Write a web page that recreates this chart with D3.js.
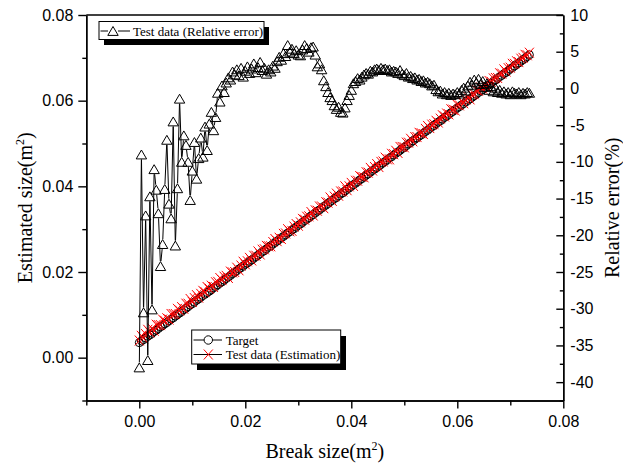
<!DOCTYPE html>
<html>
<head>
<meta charset="utf-8">
<title>Break size estimation</title>
<script src="https://d3js.org/d3.v7.min.js"></script>
<style>
  body { margin: 0; background: #fff; }
  svg { display: block; }
  .axis text { font-family: "Liberation Sans", Arial, sans-serif; font-size: 16px; fill: #000; }
  .axis path, .axis line { stroke: #000; stroke-width: 1.4px; }
  .title { font-family: "Liberation Serif", "Times New Roman", serif; font-size: 20px; fill: #000; }
  .legend text { font-family: "Liberation Serif", "Times New Roman", serif; font-size: 13px; fill: #000; }
</style>
</head>
<body>
<script>
// break size (m2)
var breakSize = [
  0.0000,0.0004,0.0008,0.0012,0.0016,0.0020,0.0024,0.0028,0.0032,0.0036,
  0.0040,0.0044,0.0048,0.0052,0.0056,0.0060,0.0064,0.0068,0.0072,0.0076,
  0.0080,0.0084,0.0088,0.0092,0.0096,0.0100,0.0104,0.0108,0.0112,0.0116,
  0.0120,0.0124,0.0128,0.0132,0.0136,0.0140,0.0144,0.0148,0.0152,0.0156,
  0.0160,0.0164,0.0168,0.0172,0.0176,0.0180,0.0184,0.0188,0.0192,0.0196,
  0.0200,0.0204,0.0208,0.0212,0.0216,0.0220,0.0224,0.0228,0.0232,0.0236,
  0.0240,0.0244,0.0248,0.0252,0.0256,0.0260,0.0264,0.0268,0.0272,0.0276,
  0.0280,0.0284,0.0288,0.0292,0.0296,0.0300,0.0304,0.0308,0.0312,0.0316,
  0.0320,0.0324,0.0328,0.0332,0.0336,0.0340,0.0344,0.0348,0.0352,0.0356,
  0.0360,0.0364,0.0368,0.0372,0.0376,0.0380,0.0384,0.0388,0.0392,0.0396,
  0.0400,0.0404,0.0408,0.0412,0.0416,0.0420,0.0424,0.0428,0.0432,0.0436,
  0.0440,0.0444,0.0448,0.0452,0.0456,0.0460,0.0464,0.0468,0.0472,0.0476,
  0.0480,0.0484,0.0488,0.0492,0.0496,0.0500,0.0504,0.0508,0.0512,0.0516,
  0.0520,0.0524,0.0528,0.0532,0.0536,0.0540,0.0544,0.0548,0.0552,0.0556,
  0.0560,0.0564,0.0568,0.0572,0.0576,0.0580,0.0584,0.0588,0.0592,0.0596,
  0.0600,0.0604,0.0608,0.0612,0.0616,0.0620,0.0624,0.0628,0.0632,0.0636,
  0.0640,0.0644,0.0648,0.0652,0.0656,0.0660,0.0664,0.0668,0.0672,0.0676,
  0.0680,0.0684,0.0688,0.0692,0.0696,0.0700,0.0704,0.0708,0.0712,0.0716,
  0.0720,0.0724,0.0728,0.0732,0.0736
];

// target size (m2)
var target = [
  0.0035,0.0039,0.0042,0.0046,0.0050,0.0053,0.0057,0.0061,0.0064,0.0068,
  0.0072,0.0075,0.0079,0.0082,0.0086,0.0090,0.0093,0.0097,0.0101,0.0104,
  0.0108,0.0112,0.0115,0.0119,0.0123,0.0126,0.0130,0.0134,0.0137,0.0141,
  0.0145,0.0148,0.0152,0.0155,0.0159,0.0163,0.0166,0.0170,0.0174,0.0177,
  0.0181,0.0185,0.0188,0.0192,0.0196,0.0199,0.0203,0.0207,0.0210,0.0214,
  0.0218,0.0221,0.0225,0.0228,0.0232,0.0236,0.0239,0.0243,0.0247,0.0250,
  0.0254,0.0258,0.0261,0.0265,0.0269,0.0272,0.0276,0.0280,0.0283,0.0287,
  0.0291,0.0294,0.0298,0.0301,0.0305,0.0309,0.0312,0.0316,0.0320,0.0323,
  0.0327,0.0331,0.0334,0.0338,0.0342,0.0345,0.0349,0.0353,0.0356,0.0360,
  0.0364,0.0367,0.0371,0.0374,0.0378,0.0382,0.0385,0.0389,0.0393,0.0396,
  0.0400,0.0404,0.0407,0.0411,0.0415,0.0418,0.0422,0.0426,0.0429,0.0433,
  0.0437,0.0440,0.0444,0.0447,0.0451,0.0455,0.0458,0.0462,0.0466,0.0469,
  0.0473,0.0477,0.0480,0.0484,0.0488,0.0491,0.0495,0.0499,0.0502,0.0506,
  0.0510,0.0513,0.0517,0.0520,0.0524,0.0528,0.0531,0.0535,0.0539,0.0542,
  0.0546,0.0550,0.0553,0.0557,0.0561,0.0564,0.0568,0.0572,0.0575,0.0579,
  0.0583,0.0586,0.0590,0.0593,0.0597,0.0601,0.0604,0.0608,0.0612,0.0615,
  0.0619,0.0623,0.0626,0.0630,0.0634,0.0637,0.0641,0.0645,0.0648,0.0652,
  0.0656,0.0659,0.0663,0.0666,0.0670,0.0674,0.0677,0.0681,0.0685,0.0688,
  0.0692,0.0696,0.0699,0.0703,0.0707
];

// test data, estimated size (m2)
var estimation = [
  0.0040,0.0051,0.0045,0.0055,0.0065,0.0059,0.0068,0.0063,0.0077,0.0076,
  0.0076,0.0089,0.0086,0.0092,0.0089,0.0102,0.0102,0.0102,0.0114,0.0110,
  0.0118,0.0114,0.0126,0.0126,0.0137,0.0130,0.0139,0.0146,0.0140,0.0149,
  0.0156,0.0153,0.0165,0.0161,0.0168,0.0165,0.0176,0.0177,0.0186,0.0181,
  0.0189,0.0191,0.0186,0.0201,0.0199,0.0200,0.0210,0.0204,0.0215,0.0224,
  0.0218,0.0225,0.0233,0.0227,0.0238,0.0238,0.0248,0.0241,0.0252,0.0253,
  0.0261,0.0260,0.0260,0.0270,0.0277,0.0272,0.0280,0.0277,0.0289,0.0290,
  0.0300,0.0295,0.0296,0.0306,0.0312,0.0308,0.0316,0.0324,0.0322,0.0329,
  0.0330,0.0340,0.0332,0.0344,0.0343,0.0353,0.0353,0.0349,0.0363,0.0362,
  0.0374,0.0366,0.0376,0.0383,0.0378,0.0388,0.0388,0.0400,0.0391,0.0400,
  0.0408,0.0401,0.0413,0.0413,0.0424,0.0422,0.0421,0.0433,0.0432,0.0443,
  0.0437,0.0445,0.0452,0.0445,0.0457,0.0458,0.0467,0.0463,0.0463,0.0476,
  0.0475,0.0483,0.0478,0.0492,0.0492,0.0491,0.0502,0.0502,0.0511,0.0505,
  0.0515,0.0515,0.0525,0.0524,0.0522,0.0534,0.0541,0.0536,0.0544,0.0545,
  0.0553,0.0549,0.0558,0.0566,0.0563,0.0570,0.0568,0.0580,0.0579,0.0577,
  0.0590,0.0589,0.0599,0.0594,0.0602,0.0609,0.0603,0.0614,0.0615,0.0625,
  0.0623,0.0631,0.0628,0.0636,0.0633,0.0646,0.0644,0.0652,0.0653,0.0653,
  0.0664,0.0663,0.0673,0.0668,0.0676,0.0677,0.0686,0.0686,0.0692,0.0690,
  0.0698,0.0700,0.0707,0.0706,0.0712
];

// test data, relative error (%)
var relError = [
  -38.0,-9.0,-30.5,-17.3,-37.0,-14.7,-30.1,-11.0,-13.8,-17.0,
  -24.2,-21.2,-13.7,-7.0,-15.7,-17.7,-4.5,-21.4,-13.6,-1.4,
  -10.0,-6.4,-7.7,-10.0,-15.2,-11.2,-7.3,-12.3,-9.5,-6.7,
  -9.3,-5.2,-8.4,-4.8,-3.2,-5.7,-3.9,-0.6,-1.8,0.4,
  -0.5,0.8,1.5,1.2,2.3,1.9,2.6,1.8,2.8,1.6,
  2.4,3.0,2.1,2.7,3.4,2.2,2.9,3.6,2.5,2.8,
  2.0,2.6,2.3,3.1,2.8,3.7,4.3,3.9,4.8,4.4,
  5.9,5.0,5.4,4.8,5.2,4.6,4.5,5.3,5.9,5.5,
  5.0,5.6,5.7,4.6,3.0,3.4,2.6,1.1,0.3,-0.5,
  -1.2,-1.6,-2.3,-2.8,-2.5,-3.2,-3.3,-2.6,-1.6,-0.9,
  -0.2,0.7,1.0,1.4,1.2,1.6,1.9,2.1,2.0,2.4,
  2.3,2.6,2.7,2.5,2.8,2.6,2.7,2.5,2.6,2.3,
  2.4,2.3,2.1,2.5,2.0,1.8,2.1,1.6,1.7,1.4,
  1.5,1.2,1.3,1.0,1.1,0.8,0.9,0.7,0.4,0.5,
  -0.1,-0.4,-0.3,-0.7,-0.5,-0.8,-0.6,-0.9,-0.7,-0.8,
  -0.5,-0.7,-0.2,0.1,-0.3,0.4,0.9,0.5,1.2,0.8,
  1.3,0.6,1.0,0.2,0.7,-0.2,0.3,-0.4,0.1,-0.5,
  -0.2,-0.6,-0.4,-0.7,-0.5,-0.8,-0.4,-0.6,-0.7,-0.5,
  -0.8,-0.6,-0.7,-0.5,-0.6
];

var xMajor = [0, 0.02, 0.04, 0.06, 0.08];
var xMinor = [-0.01, 0.01, 0.03, 0.05, 0.07];
var yMajor = [0, 0.02, 0.04, 0.06, 0.08];
var yMinor = [-0.01, 0.01, 0.03, 0.05, 0.07];
var rMajor = [10, 5, 0, -5, -10, -15, -20, -25, -30, -35, -40];
var rMinor = [7.5, 2.5, -2.5, -7.5, -12.5, -17.5, -22.5, -27.5, -32.5, -37.5, -42.5];

var W = 623, H = 467;
var pLeft = 86.3, pRight = 563.3, pTop = 15, pBottom = 400.5;

var svg = d3.select("body").append("svg").attr("width", W).attr("height", H);

var x = d3.scaleLinear().domain([-0.01, 0.08]).range([pLeft, pRight]);
var yL = d3.scaleLinear().domain([-0.01, 0.08]).range([pBottom, pTop]);
var yR = d3.scaleLinear().domain([-42.5, 10]).range([pBottom, pTop]);

// line segments with a gap around each symbol (like the original plot)
function gapPath(pts, gap) {
  var d = "";
  for (var i = 0; i < pts.length - 1; i++) {
    var a = pts[i], b = pts[i + 1];
    var dx = b[0] - a[0], dy = b[1] - a[1];
    var len = Math.sqrt(dx * dx + dy * dy);
    if (len <= 2 * gap) continue;
    var ux = dx / len, uy = dy / len;
    d += "M" + (a[0] + ux * gap) + "," + (a[1] + uy * gap) +
         "L" + (b[0] - ux * gap) + "," + (b[1] - uy * gap);
  }
  return d;
}

var triPath = "M0,-4.5L5.2,4.4L-5.2,4.4Z";
var crossPath = "M-4.5,-5L4.5,5M-4.5,5L4.5,-5";

// axes
svg.append("g").attr("class", "axis").attr("transform", "translate(" + pLeft + ",0)")
   .call(d3.axisLeft(yL).tickValues(yMajor).tickSizeInner(8).tickSizeOuter(0)
         .tickPadding(5).tickFormat(d3.format(".2f")));
svg.append("g").attr("class", "axis").attr("transform", "translate(" + pLeft + ",0)")
   .call(d3.axisLeft(yL).tickValues(yMinor).tickSizeInner(4).tickSizeOuter(0).tickFormat(""));

svg.append("g").attr("class", "axis").attr("transform", "translate(0," + pBottom + ")")
   .call(d3.axisBottom(x).tickValues(xMajor).tickSizeInner(8).tickSizeOuter(0)
         .tickPadding(7).tickFormat(d3.format(".2f")));
svg.append("g").attr("class", "axis").attr("transform", "translate(0," + pBottom + ")")
   .call(d3.axisBottom(x).tickValues(xMinor).tickSizeInner(5).tickSizeOuter(0).tickFormat(""));

svg.append("g").attr("class", "axis").attr("transform", "translate(" + pRight + ",0)")
   .call(d3.axisRight(yR).tickValues(rMajor).tickSizeInner(-7).tickSizeOuter(0)
         .tickPadding(7).tickFormat(function (d) { return String(d); }));
svg.append("g").attr("class", "axis").attr("transform", "translate(" + pRight + ",0)")
   .call(d3.axisRight(yR).tickValues(rMinor).tickSizeInner(-3.5).tickSizeOuter(0).tickFormat(""));

svg.append("line").attr("x1", pLeft).attr("x2", pRight).attr("y1", pTop).attr("y2", pTop)
   .attr("stroke", "#000").attr("stroke-width", 1.4);

// series
var plot = svg.append("g");

var tPts = breakSize.map(function (d, i) { return [x(d), yL(target[i])]; });
var ePts = breakSize.map(function (d, i) { return [x(d), yL(estimation[i])]; });
var rPts = breakSize.map(function (d, i) { return [x(d), yR(relError[i])]; });

plot.append("path").attr("d", gapPath(tPts, 4)).attr("fill", "none").attr("stroke", "#000").attr("stroke-width", 1);
plot.append("g").selectAll("circle").data(tPts).enter().append("circle")
    .attr("cx", function (d) { return d[0]; })
    .attr("cy", function (d) { return d[1]; })
    .attr("r", 4).attr("fill", "none").attr("stroke", "#000").attr("stroke-width", 1);

plot.append("path").attr("d", gapPath(ePts, 4.5)).attr("fill", "none").attr("stroke", "#000").attr("stroke-width", 1);
plot.append("g").selectAll("path").data(ePts).enter().append("path")
    .attr("transform", function (d) { return "translate(" + d[0] + "," + d[1] + ")"; })
    .attr("d", crossPath).attr("fill", "none").attr("stroke", "#ff0000").attr("stroke-width", 1);

plot.append("path").attr("d", gapPath(rPts, 5)).attr("fill", "none").attr("stroke", "#000").attr("stroke-width", 1);
plot.append("g").selectAll("path").data(rPts).enter().append("path")
    .attr("transform", function (d) { return "translate(" + d[0] + "," + d[1] + ")"; })
    .attr("d", triPath).attr("fill", "none").attr("stroke", "#000").attr("stroke-width", 1);

// axis titles
var t1 = svg.append("text").attr("class", "title").attr("text-anchor", "middle")
   .attr("transform", "translate(32," + (pTop + pBottom) / 2 + ") rotate(-90)");
t1.append("tspan").text("Estimated size(m");
t1.append("tspan").attr("dy", -8).attr("font-size", "12px").text("2");
t1.append("tspan").attr("dy", 8).text(")");

var t2 = svg.append("text").attr("class", "title").attr("text-anchor", "middle")
   .attr("x", (pLeft + pRight) / 2).attr("y", 458);
t2.append("tspan").text("Break size(m");
t2.append("tspan").attr("dy", -8).attr("font-size", "12px").text("2");
t2.append("tspan").attr("dy", 8).text(")");

svg.append("text").attr("class", "title").attr("text-anchor", "middle")
   .attr("transform", "translate(619," + (pTop + pBottom) / 2 + ") rotate(-90)")
   .text("Relative error(%)");

// legends
var lg1 = svg.append("g").attr("class", "legend");
lg1.append("rect").attr("x", 104).attr("y", 27).attr("width", 165).attr("height", 18).attr("fill", "#000");
lg1.append("rect").attr("x", 99).attr("y", 21.5).attr("width", 165).attr("height", 18)
   .attr("fill", "#fff").attr("stroke", "#000").attr("stroke-width", 1);
lg1.append("path").attr("d", "M100.5,31H108M118,31H130").attr("stroke", "#000").attr("stroke-width", 1);
lg1.append("path").attr("transform", "translate(113,31)").attr("d", triPath)
   .attr("fill", "none").attr("stroke", "#000").attr("stroke-width", 1);
lg1.append("text").attr("x", 133).attr("y", 35.5).text("Test data (Relative error)");

var lg2 = svg.append("g").attr("class", "legend");
lg2.append("rect").attr("x", 197).attr("y", 336).attr("width", 149).attr("height", 34).attr("fill", "#000");
lg2.append("rect").attr("x", 191.7).attr("y", 330).attr("width", 149).attr("height", 34)
   .attr("fill", "#fff").attr("stroke", "#000").attr("stroke-width", 1);
lg2.append("path").attr("d", "M193.5,340H204M212.5,340H222").attr("stroke", "#000").attr("stroke-width", 1);
lg2.append("circle").attr("cx", 208.3).attr("cy", 340).attr("r", 4.2)
   .attr("fill", "none").attr("stroke", "#000").attr("stroke-width", 1);
lg2.append("text").attr("x", 225.7).attr("y", 344.5).text("Target");
lg2.append("path").attr("d", "M193.5,354.5H222").attr("stroke", "#000").attr("stroke-width", 1);
lg2.append("path").attr("transform", "translate(208.3,354.5)").attr("d", crossPath)
   .attr("fill", "none").attr("stroke", "#ff0000").attr("stroke-width", 1);
lg2.append("text").attr("x", 225.7).attr("y", 358.8).text("Test data (Estimation)");
</script>
</body>
</html>
